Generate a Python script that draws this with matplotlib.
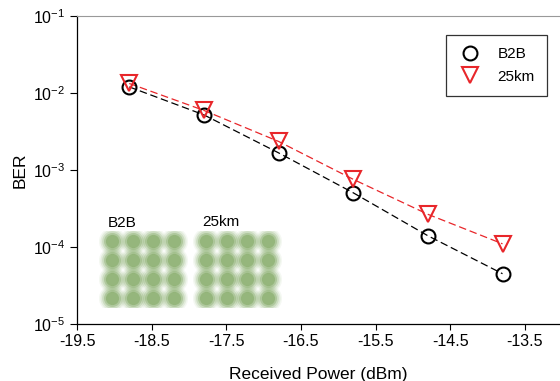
import matplotlib
matplotlib.use("Agg")
import matplotlib.pyplot as plt
import numpy as np

power = [-18.8, -17.8, -16.8, -15.8, -14.8, -13.8]
ber_b2b = [1.20e-2, 5.2e-3, 1.67e-3, 5.06e-4, 1.40e-4, 4.5e-5]
ber_25km = [1.33e-2, 5.94e-3, 2.35e-3, 7.57e-4, 2.66e-4, 1.10e-4]
xticks = [-19.5, -18.5, -17.5, -16.5, -15.5, -14.5, -13.5]
qam_levels = [-3, -1, 1, 3]

plt.rcParams['font.family'] = ['Liberation Sans', 'DejaVu Sans']

fig = plt.figure(figsize=(5.6, 3.81), dpi=100)
ax = fig.add_axes([77/560, 1-324/381, 1.0-77/560, (324-16)/381])

ax.plot(power, ber_b2b, color='black', ls=(0, (6, 3)), lw=0.9)
ax.plot(power, ber_25km, color='#e8262a', ls=(0, (6, 3)), lw=0.9)
ax.plot(power, ber_b2b, ls='none', marker='o', ms=10, mfc='none', mec='black', mew=1.5, label='B2B')
ax.plot(power, ber_25km, ls='none', marker='v', ms=11, mfc='none', mec='#e8262a', mew=1.5, label='25km')

ax.set_yscale('log')
ax.set_ylim(1e-5, 1e-1)
ax.set_xlim(-19.5, -13.03)
ax.set_xticks(xticks)
ax.set_xticklabels([f"{t:.1f}" for t in xticks])
ax.minorticks_off()
ax.tick_params(axis='both', direction='out', labelsize=11.5, length=4, width=0.8)
ax.tick_params(axis='y', length=5)
ax.spines['right'].set_visible(False)
ax.spines['top'].set_color('#999999')
ax.spines['left'].set_linewidth(0.9)
ax.spines['bottom'].set_linewidth(0.9)
ax.set_xlabel('Received Power (dBm)', fontsize=12.5, labelpad=13)
ax.set_ylabel('BER', fontsize=12.5, labelpad=4)

leg = ax.legend(loc='upper right', fontsize=11, frameon=True, fancybox=False, edgecolor='black',
                borderpad=0.8, labelspacing=0.55, handletextpad=1.0, handlelength=1.6,
                borderaxespad=0)
leg.get_frame().set_linewidth(0.9)
leg.set_bbox_to_anchor((547/560, 1-35/381), transform=fig.transFigure)

# constellation insets
def constellation(x0):
    iax = fig.add_axes([x0/560, 1-307/381, 88/560, 76/381])
    iax.set_xlim(-4.2, 4.2)
    iax.set_ylim(-4.0, 4.0)
    iax.axis('off')
    pts = [(i, q) for i in qam_levels for q in qam_levels]
    xs = [p[0] for p in pts]
    ys = [p[1] for p in pts]
    for s, a in [(380, 0.07), (300, 0.12), (220, 0.2), (150, 0.3), (90, 0.4)]:
        iax.scatter(xs, ys, s=s, color='#6f9c4c', alpha=a, lw=0)
    return iax

constellation(99)
constellation(193)
fig.text(108/560, 1-223/381, 'B2B', fontsize=11, va='center', ha='left')
fig.text(202/560, 1-222/381, '25km', fontsize=11, va='center', ha='left')

fig.savefig('out.png', dpi=100)
